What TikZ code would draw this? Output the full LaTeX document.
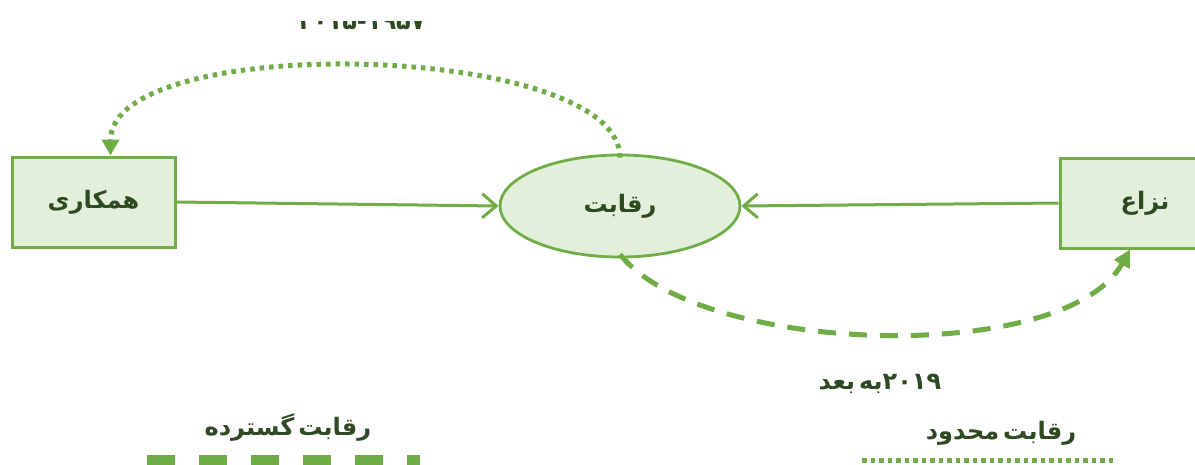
\documentclass[tikz,border=0pt]{standalone}
\usepackage{fontspec}
\usetikzlibrary{arrows.meta,shapes.geometric,calc}
\newfontfamily\fa[Script=Arabic]{DejaVu Sans}
\TeXXeTstate=1
\definecolor{leaf}{HTML}{70AD47}
\definecolor{leaffill}{HTML}{E2EFDA}
\definecolor{ink}{HTML}{2F4A22}
\tikzset{
  txt/.style={text=ink, font=\fa\bfseries\fontsize{24}{28}\selectfont},
  box/.style={txt, draw=leaf, fill=leaffill, line width=3pt, minimum width=163pt, minimum height=90pt, inner sep=0pt},
  oval/.style={txt, ellipse, draw=leaf, fill=leaffill, line width=2.8pt, minimum width=240pt, minimum height=102pt, inner sep=0pt},
  solidarrow/.style={leaf, line width=3pt, -{Straight Barb[length=14pt,width=24pt]}},
  dotarc/.style={leaf, line width=5pt, dash pattern=on 4.5pt off 5pt, -{Triangle[length=16pt,width=17pt]}},
  dasharc/.style={leaf, line width=5pt, dash pattern=on 18pt off 13pt, -{Triangle[length=17pt,width=17pt]}},
}
\begin{document}
\begin{tikzpicture}[x=1pt,y=-1pt]
\clip (0,0) rectangle (1195,464);
\fill[white] (0,0) rectangle (1195,464);

% main nodes
\node[box] (hk) at (93.5,202) {\beginR همکاری\endR};
\node[oval] (rq) at (620,206) {\beginR رقابت\endR};
\node[box, minimum width=170pt] (nz) at (1145,203) {\beginR نزاع\endR};

% straight connectors into the centre
\draw[solidarrow] (hk.east) -- (rq.west);
\draw[solidarrow] (nz.west) -- (rq.east);

% upper dotted arc
\draw[dotarc] ([yshift=-4pt]rq.north) .. controls ($(rq.north)+(0,-112)$) and ($(hk.north)+(17,-125)$) .. ([xshift=17pt]hk.north);

% lower dashed arc
\draw[dasharc] ([yshift=4pt]rq.south) .. controls ($(rq.south)+(80,97)$) and ($(nz.south)+(-80,117)$) .. ([xshift=-15pt]nz.south);

% period labels (the upper one runs off the top edge)
\begin{scope}
  \clip (270,21) rectangle (460,40);
  \node[txt, anchor=base] (before) at (362,29) {\beginL ۲۰۱۵-۱۹۵۷\endL};
\end{scope}
\node[txt, anchor=base] (after) at (880,389) {\beginR\beginL ۲۰۱۹\endL{}به\,بعد\endR};

% legend
\node[txt, anchor=base] (wide) at (288,435) {\beginR رقابت\,گسترده\endR};
\node[txt, anchor=base] (narrow) at (1001,439) {\beginR رقابت\,محدود\endR};
\draw[leaf, line width=16pt, dash pattern=on 28pt off 24pt] (147,463) -- (420,463);
\draw[leaf, line width=4.5pt, dash pattern=on 4.5pt off 4pt] (862,460.5) -- (1113,460.5);
\end{tikzpicture}
\end{document}
